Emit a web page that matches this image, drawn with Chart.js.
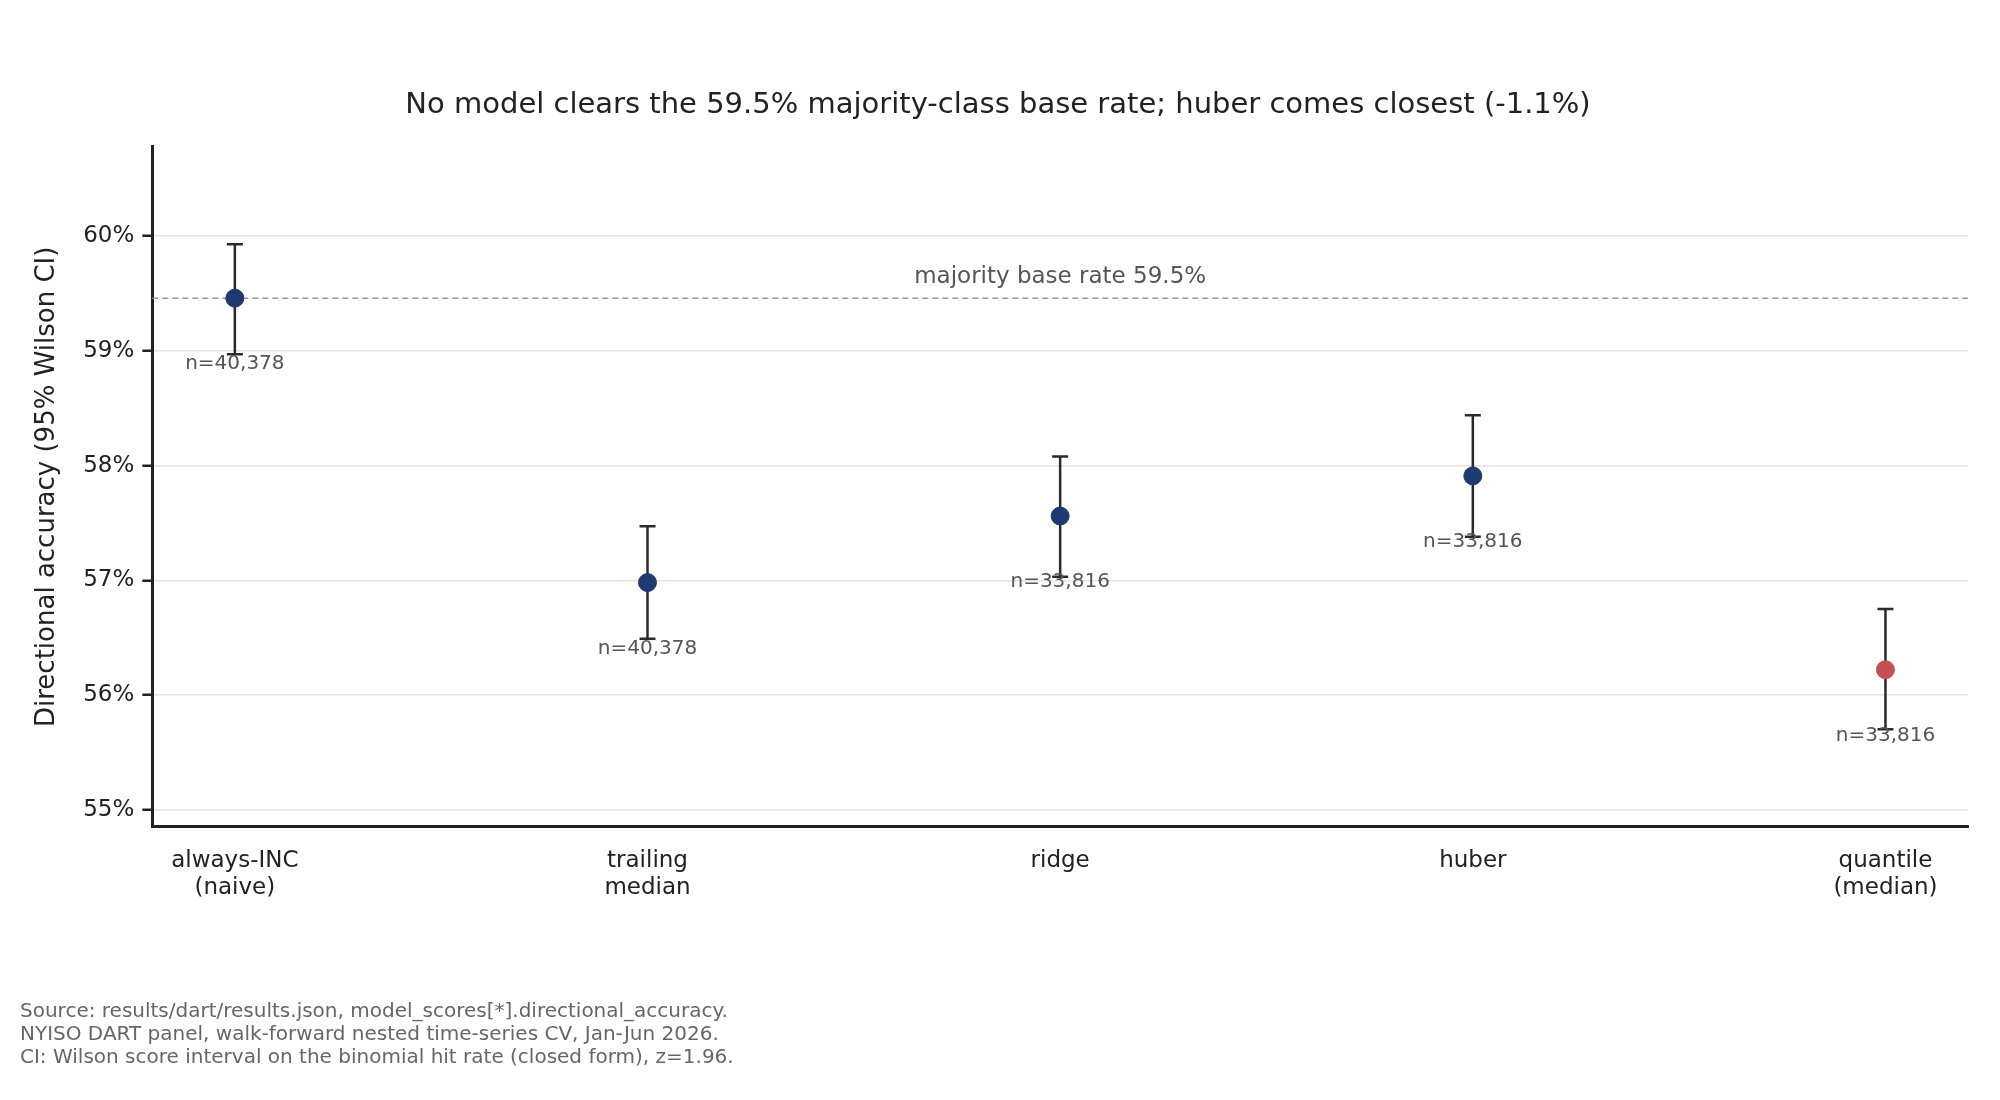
<!DOCTYPE html>
<html>
<head>
<meta charset="utf-8">
<script src="https://cdn.jsdelivr.net/npm/chart.js@4"></script>
<style>
  body { margin: 0; background: #fff; }
  #wrap { width: 2000px; height: 1100px; }
</style>
</head>
<body>
<div id="wrap"><canvas id="myChart" width="2000" height="1100"></canvas></div>
<script>
const models = [['always-INC', '(naive)'], ['trailing', 'median'], ['ridge'], ['huber'], ['quantile', '(median)']];
const accuracy = [59.46, 56.98, 57.56, 57.91, 56.22];
const ciLow = [58.97, 56.49, 57.03, 57.38, 55.70];
const ciHigh = [59.93, 57.47, 58.08, 58.44, 56.75];
const nLabels = ['n=40,378', 'n=40,378', 'n=33,816', 'n=33,816', 'n=33,816'];
const baseRate = 59.46;
const yTicks = [55, 56, 57, 58, 59, 60];
const footer = [
  'Source: results/dart/results.json, model_scores[*].directional_accuracy.',
  'NYISO DART panel, walk-forward nested time-series CV, Jan-Jun 2026.',
  'CI: Wilson score interval on the binomial hit rate (closed form), z=1.96.'
];

const FONT = 'DejaVu Sans';
const pointColors = accuracy.map((v, i) => i == 4 ? '#c44e52' : '#1f3a70');

// error bars, n labels, base line, footer
const extras = {
  id: 'extras',
  beforeDatasetsDraw(chart) {
    const { ctx, chartArea: { left, right }, scales: { x, y } } = chart;
    ctx.save();
    const by = y.getPixelForValue(baseRate);
    ctx.strokeStyle = '#999';
    ctx.lineWidth = 1.5;
    ctx.setLineDash([6, 4]);
    ctx.beginPath(); ctx.moveTo(left, by); ctx.lineTo(right, by); ctx.stroke();
    ctx.setLineDash([]);
    ctx.fillStyle = '#555';
    ctx.font = '23px ' + FONT;
    ctx.textAlign = 'center';
    ctx.textBaseline = 'bottom';
    ctx.fillText('majority base rate 59.5%', x.getPixelForValue(2), by - 10);

    ctx.strokeStyle = '#2a2a2a';
    ctx.lineWidth = 2.5;
    for (let i = 0; i < accuracy.length; i++) {
      const px = x.getPixelForValue(i);
      const lo = y.getPixelForValue(ciLow[i]);
      const hi = y.getPixelForValue(ciHigh[i]);
      ctx.beginPath();
      ctx.moveTo(px, lo); ctx.lineTo(px, hi);
      ctx.moveTo(px - 8, lo); ctx.lineTo(px + 8, lo);
      ctx.moveTo(px - 8, hi); ctx.lineTo(px + 8, hi);
      ctx.stroke();
    }
    ctx.restore();
  },
  afterDatasetsDraw(chart) {
    const { ctx, scales: { x, y } } = chart;
    ctx.save();
    ctx.fillStyle = '#555';
    ctx.font = '20px ' + FONT;
    ctx.textAlign = 'center';
    ctx.textBaseline = 'middle';
    for (let i = 0; i < accuracy.length; i++) {
      ctx.fillText(nLabels[i], x.getPixelForValue(i), y.getPixelForValue(accuracy[i]) + 66);
    }
    ctx.fillStyle = '#666';
    ctx.font = '20px ' + FONT;
    ctx.textAlign = 'left';
    footer.forEach((t, k) => ctx.fillText(t, 20, 1012 + k * 23));
    ctx.restore();
  }
};

new Chart(document.getElementById('myChart'), {
  type: 'scatter',
  data: {
    datasets: [{
      data: accuracy.map((v, i) => ({ x: i, y: v })),
      backgroundColor: pointColors,
      borderColor: pointColors,
      pointRadius: 9,
      pointHoverRadius: 9
    }]
  },
  options: {
    responsive: false,
    animation: false,
    layout: { padding: { left: 28, right: 32, top: 20, bottom: 190 } },
    plugins: {
      legend: { display: false },
      tooltip: { enabled: false },
      title: {
        display: true,
        text: 'No model clears the 59.5% majority-class base rate; huber comes closest (-1.1%)',
        color: '#222',
        font: { family: FONT, size: 29, weight: 'normal' },
        padding: { top: 68, bottom: 24 }
      }
    },
    scales: {
      x: {
        type: 'linear',
        min: -0.2, max: 4.2,
        afterBuildTicks(axis) { axis.ticks = models.map((m, i) => ({ value: i })); },
        ticks: {
          callback: (v) => models[v],
          color: '#222',
          font: { family: FONT, size: 23 },
          padding: 8,
          maxRotation: 0
        },
        grid: { display: false, drawTicks: true, tickLength: 12, tickWidth: 2.5, tickColor: '#222' },
        border: { color: '#222', width: 3 }
      },
      y: {
        min: 54.85, max: 60.78,
        afterBuildTicks(axis) { axis.ticks = yTicks.map(v => ({ value: v })); },
        ticks: {
          callback: (v) => v + '%',
          color: '#222',
          font: { family: FONT, size: 23 },
          padding: 8
        },
        grid: { color: '#e3e3e3', lineWidth: 1.5, drawTicks: true, tickLength: 10, tickWidth: 2.5, tickColor: '#222' },
        border: { color: '#222', width: 3 },
        title: {
          display: true,
          text: 'Directional accuracy (95% Wilson CI)',
          color: '#222',
          font: { family: FONT, size: 26 },
          padding: { bottom: 12 }
        }
      }
    }
  },
  plugins: [extras]
});
</script>
</body>
</html>
